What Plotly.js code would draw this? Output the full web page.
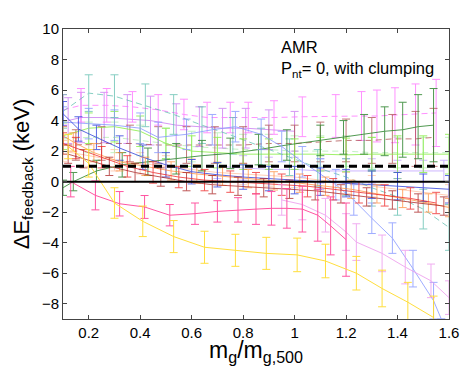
<!DOCTYPE html>
<html>
<head>
<meta charset="utf-8">
<script src="https://cdn.plot.ly/plotly-3.0.1.min.js"></script>
<style>
  html, body { margin: 0; padding: 0; background: #fff; }
  #chart { width: 463px; height: 366px; }
</style>
</head>
<body>
<div id="chart"></div>
<script>
// x ranges and reference levels
const xRange = [0.1, 1.6];
const yRange = [-9, 10];
const xTicks = [0.2, 0.4, 0.6, 0.8, 1, 1.2, 1.4, 1.6];
const yTicks = [-8, -6, -4, -2, 0, 2, 4, 6, 8, 10];
const zeroLevel = 0;
const dashedLevel = 1;

// each halo: x positions, mean dE, error
const xPeach = [0.1, 0.2, 0.3, 0.4, 0.5, 0.6, 0.7, 0.8, 0.9, 1.0, 1.1, 1.2, 1.3, 1.4, 1.5, 1.6];
const yPeach = [2.0, 1.7, 1.4, 1.2, 1.0, 0.8, 0.6, 0.5, 0.4, 0.3, 0.1, -0.1, -0.3, -0.5, -0.7, -0.9];
const ePeach = [0.7, 0.7, 0.7, 0.7, 0.7, 0.7, 0.7, 0.7, 0.7, 0.7, 0.7, 0.7, 0.7, 0.7, 0.7, 0.7];

const xPaleGreen = [0.1, 0.2, 0.3, 0.4, 0.5, 0.6, 0.7, 0.8, 0.9, 1.0, 1.1, 1.2, 1.3, 1.4, 1.5, 1.6];
const yPaleGreen = [2.8, 2.9, 2.9, 2.7, 2.5, 2.3, 2.2, 2.1, 2.1, 2.0, 2.0, 2.0, 1.9, 1.9, 1.9, 1.9];
const ePaleGreen = [1.0, 1.0, 1.0, 1.0, 1.0, 1.0, 1.0, 1.0, 1.0, 1.0, 1.0, 1.0, 1.0, 1.0, 1.0, 1.0];

const xLavender = [0.7, 0.8, 0.9, 1.0, 1.1, 1.2, 1.3, 1.4, 1.5, 1.58];
const yLavender = [1.0, 0.9, 0.8, 0.8, 0.7, 0.7, 0.7, 0.7, 0.7, 0.7];
const eLavender = [0.8, 0.8, 0.8, 0.8, 0.8, 0.8, 0.8, 0.7, 0.7, 0.7];

const xViolet = [0.12, 0.17, 0.26, 0.35, 0.44, 0.54, 0.63, 0.72, 0.81, 0.9, 1.0];
const yViolet = [4.0, 4.2, 4.2, 4.1, 4.0, 3.7, 3.6, 3.5, 3.5, 3.4, 3.3];
const eViolet = [1.5, 1.65, 1.65, 1.6, 1.6, 1.4, 1.3, 1.3, 1.3, 1.3, 1.3];

const xMagenta = [0.1, 0.17, 0.27, 0.37, 0.47, 0.57, 0.66, 0.75, 0.82, 0.92, 1.03, 1.16, 1.26, 1.32, 1.39, 1.47, 1.55];
const yMagenta = [4.7, 5.0, 5.0, 4.9, 4.7, 4.4, 4.2, 4.2, 4.2, 4.2, 4.25, 4.3, 4.3, 4.3, 4.35, 4.4, 4.5];
const eMagenta = [1.0, 1.1, 1.1, 1.0, 1.0, 1.0, 1.0, 1.0, 1.0, 1.1, 1.3, 1.4, 1.6, 1.7, 1.8, 2.0, 2.2];

const xTeal = [0.1, 0.2, 0.3, 0.42, 0.53, 0.64, 0.76, 0.87, 0.98, 1.09, 1.2, 1.3, 1.4, 1.5, 1.6];
const yTeal = [4.6, 5.8, 5.6, 5.0, 4.4, 3.7, 3.0, 2.3, 1.6, 0.9, 0.3, -0.4, -1.0, -1.8, -3.0];
const eTeal = [1.1, 1.2, 1.4, 1.4, 1.3, 1.2, 1.2, 1.2, 1.2, 1.2, 1.2, 1.2, 1.2, 1.3, 1.5];

const xBrown = [0.15, 0.25, 0.36, 0.47, 0.58, 0.69, 0.8, 0.9, 1.0, 1.1, 1.2, 1.3, 1.38, 1.47, 1.54];
const yBrown = [2.4, 2.5, 2.5, 2.4, 2.4, 2.4, 2.4, 2.5, 2.5, 2.6, 2.7, 2.7, 2.8, 2.8, 2.9];
const eBrown = [1.0, 1.1, 1.2, 1.2, 1.2, 1.2, 1.2, 1.2, 1.2, 1.3, 1.4, 1.5, 1.6, 1.8, 1.9];

const xLime = [0.1, 0.2, 0.3, 0.4, 0.5, 0.6, 0.7, 0.8, 0.9, 1.0, 1.1, 1.2, 1.3, 1.4, 1.5, 1.6];
const yLime = [3.0, 3.5, 3.6, 3.3, 2.5, 2.0, 1.9, 1.8, 1.8, 1.8, 1.8, 1.75, 1.8, 1.8, 1.8, 1.8];
const eLime = [0.9, 1.0, 1.0, 1.0, 1.0, 1.0, 1.0, 1.0, 1.0, 1.0, 1.1, 1.1, 1.1, 1.2, 1.2, 1.3];

const xDarkGreen = [0.1, 0.14, 0.23, 0.33, 0.43, 0.54, 0.64, 0.75, 0.86, 0.97, 1.1, 1.19, 1.27, 1.35, 1.42, 1.48, 1.54];
const yDarkGreen = [-0.4, 0.0, 0.7, 1.1, 1.3, 1.5, 1.7, 1.85, 2.1, 2.4, 2.7, 2.9, 3.1, 3.3, 3.4, 3.6, 3.7];
const eDarkGreen = [0.5, 0.6, 0.7, 0.8, 0.9, 1.0, 1.0, 1.0, 1.0, 1.0, 1.0, 1.1, 1.3, 1.6, 1.8, 2.1, 2.4];

const xLightBlue = [0.1, 0.2, 0.3, 0.4, 0.47, 0.58, 0.68, 0.77, 0.87, 0.95, 1.03, 1.1, 1.16, 1.23, 1.3, 1.38, 1.46, 1.54, 1.57];
const yLightBlue = [3.9, 3.8, 3.7, 3.5, 2.9, 3.1, 3.4, 3.6, 3.1, 2.3, 1.3, 0.5, -0.2, -1.2, -2.4, -3.7, -5.7, -7.8, -9.0];
const eLightBlue = [1.0, 1.0, 1.0, 1.0, 1.0, 1.0, 1.0, 1.0, 1.0, 1.0, 1.0, 1.0, 1.0, 1.0, 1.0, 1.0, 1.2, 1.2, 0];

const xBlue = [0.1, 0.16, 0.23, 0.32, 0.41, 0.5, 0.6, 0.7, 0.8, 0.9, 1.0, 1.1, 1.2, 1.3, 1.4, 1.5, 1.6];
const yBlue = [4.45, 3.45, 2.9, 2.2, 1.6, 1.1, 0.65, 0.45, 0.3, 0.2, 0.1, 0.0, -0.1, -0.2, -0.3, -0.4, -0.5];
const eBlue = [0.8, 0.8, 0.8, 0.8, 0.8, 0.8, 0.8, 0.8, 0.8, 0.8, 0.9, 0.9, 0.9, 0.9, 0.9, 0.9, 0.9];

const xOrange = [0.1, 0.14, 0.22, 0.32, 0.42, 0.52, 0.62, 0.72, 0.82, 0.92, 1.02, 1.12, 1.22, 1.32, 1.42, 1.52, 1.6];
const yOrange = [3.0, 2.6, 1.9, 1.3, 1.0, 0.7, 0.5, 0.35, 0.2, 0.05, -0.1, -0.3, -0.5, -0.8, -1.1, -1.4, -1.7];
const eOrange = [0.6, 0.6, 0.6, 0.6, 0.6, 0.6, 0.6, 0.6, 0.6, 0.6, 0.6, 0.6, 0.6, 0.6, 0.6, 0.6, 0.6];

const xRed = [0.1, 0.15, 0.25, 0.35, 0.45, 0.55, 0.65, 0.75, 0.85, 0.95, 1.05, 1.15, 1.25, 1.35, 1.45, 1.55];
const yRed = [2.5, 2.2, 1.6, 1.0, 0.6, 0.3, 0.1, 0.0, -0.1, -0.2, -0.3, -0.5, -0.7, -0.9, -1.1, -1.4];
const eRed = [0.7, 0.7, 0.7, 0.7, 0.7, 0.7, 0.7, 0.7, 0.7, 0.7, 0.7, 0.7, 0.7, 0.7, 0.7, 0.7];

const xDarkRed = [0.12, 0.18, 0.28, 0.38, 0.48, 0.58, 0.68, 0.78, 0.88, 0.98, 1.08, 1.18, 1.28, 1.38, 1.48, 1.58];
const yDarkRed = [1.8, 1.5, 1.0, 0.6, 0.3, 0.0, -0.2, -0.3, -0.4, -0.5, -0.6, -0.8, -1.0, -1.2, -1.4, -1.6];
const eDarkRed = [0.6, 0.6, 0.6, 0.6, 0.6, 0.6, 0.6, 0.6, 0.6, 0.6, 0.6, 0.6, 0.6, 0.6, 0.6, 0.6];

const xPinkLight = [0.95, 1.03, 1.12, 1.2, 1.24, 1.34, 1.43, 1.53, 1.6];
const yPinkLight = [-1.2, -1.5, -2.2, -3.3, -3.96, -4.7, -5.6, -6.5, -7.6];
const ePinkLight = [1.0, 1.0, 1.1, 1.2, 1.2, 1.2, 1.1, 1.1, 1.1];

const xPink = [0.13, 0.226, 0.32, 0.417, 0.515, 0.613, 0.7, 0.78, 0.85, 0.91, 0.97, 1.03, 1.09, 1.14, 1.2];
const yPink = [0.0, -0.9, -1.45, -1.66, -2.2, -2.1, -1.95, -1.85, -1.8, -1.75, -1.75, -1.8, -2.2, -2.9, -3.8];
const ePink = [1.0, 0.95, 0.8, 0.75, 0.7, 0.7, 0.7, 0.8, 1.0, 1.1, 1.3, 1.5, 1.7, 1.9, 2.4];

const xYellow = [0.12, 0.2, 0.3, 0.41, 0.53, 0.65, 0.77, 0.89, 1.01, 1.12, 1.24, 1.34, 1.44, 1.54];
const yYellow = [2.3, 1.2, -1.4, -2.6, -3.6, -4.3, -4.5, -4.7, -4.8, -5.2, -6.0, -7.0, -7.9, -8.9];
const eYellow = [0.8, 0.9, 1.0, 1.0, 1.05, 1.05, 1.05, 1.05, 1.1, 1.1, 1.1, 1.2, 1.3, 1.4];

function halo(x, y, err, color, dash, opacity) {
  return {
    type: "scatter",
    mode: "lines",
    x: x,
    y: y,
    opacity: opacity || 0.75,
    line: { color: color, width: 1, dash: dash || "solid" },
    error_y: { type: "data", array: err, visible: true, color: color, thickness: 1, width: 4 },
    hoverinfo: "skip",
    showlegend: false,
  };
}

const traces = [
  halo(xPeach, yPeach, ePeach, "#ffbb99", null, 0.7),
  halo(xPaleGreen, yPaleGreen, ePaleGreen, "#aaeeaa", "6px,4px", 0.7),
  halo(xLavender, yLavender, eLavender, "#bb99ff", null, 0.7),
  halo(xViolet, yViolet, eViolet, "#bb55ee", null, 0.6),
  halo(xMagenta, yMagenta, eMagenta, "#ff77ff", "6px,4px", 0.8),
  halo(xTeal, yTeal, eTeal, "#55bbaa", "6px,4px", 0.7),
  halo(xBrown, yBrown, eBrown, "#aa4444", "6px,4px", 0.7),
  halo(xLime, yLime, eLime, "#88ee44", null, 0.8),
  halo(xDarkGreen, yDarkGreen, eDarkGreen, "#338833", null, 0.85),
  halo(xLightBlue, yLightBlue, eLightBlue, "#8899ff", null, 0.8),
  halo(xBlue, yBlue, eBlue, "#3344dd", null, 0.8),
  halo(xOrange, yOrange, eOrange, "#ff8833", null, 0.7),
  halo(xRed, yRed, eRed, "#ee2222", null, 0.75),
  halo(xDarkRed, yDarkRed, eDarkRed, "#aa2222", null, 0.75),
  halo(xPinkLight, yPinkLight, ePinkLight, "#ee99ee", null, 0.8),
  halo(xPink, yPink, ePink, "#ff4499", null, 0.9),
  halo(xYellow, yYellow, eYellow, "#ffdd33", null, 0.95),
  {
    type: "scatter", mode: "lines", x: xRange, y: [dashedLevel, dashedLevel],
    line: { color: "#000", width: 3, dash: "8px,5px" }, hoverinfo: "skip", showlegend: false,
  },
  {
    type: "scatter", mode: "lines", x: xRange, y: [zeroLevel, zeroLevel],
    line: { color: "#000", width: 2 }, hoverinfo: "skip", showlegend: false,
  },
];

const fontFamily = "Liberation Sans, Arial, sans-serif";
const axisFont = { family: fontFamily, size: 15, color: "#000" };

const layout = {
  width: 463,
  height: 366,
  margin: { l: 63, r: 14, t: 29, b: 47 },
  paper_bgcolor: "#fff",
  plot_bgcolor: "#fff",
  font: axisFont,
  xaxis: {
    range: xRange,
    tickvals: xTicks,
    ticktext: xTicks.map(String),
    ticks: "inside",
    ticklen: 4,
    tickcolor: "#444",
    showline: true,
    linecolor: "#444",
    linewidth: 1,
    mirror: "ticks",
    showgrid: false,
    zeroline: false,
    tickfont: axisFont,
    title: { text: "m<sub>g</sub>/m<sub>g,500</sub>", font: { family: fontFamily, size: 23, color: "#000" }, standoff: 2 },
  },
  yaxis: {
    range: yRange,
    tickvals: yTicks,
    ticks: "inside",
    ticklen: 4,
    tickcolor: "#444",
    showline: true,
    linecolor: "#444",
    linewidth: 1,
    mirror: "ticks",
    showgrid: false,
    zeroline: false,
    tickfont: axisFont,
    title: { text: "ΔE<sub>feedback</sub> (keV)", font: { family: fontFamily, size: 22, color: "#000" }, standoff: 6 },
  },
  annotations: [
    {
      xref: "paper", yref: "paper", x: 0.56, y: 0.975,
      xanchor: "left", yanchor: "top", align: "left", showarrow: false,
      text: "AMR<br>P<sub>nt</sub>= 0, with clumping",
      font: { family: fontFamily, size: 16.5, color: "#000" },
    },
  ],
};

Plotly.newPlot("chart", traces, layout, { staticPlot: true, displayModeBar: false });
</script>
</body>
</html>
